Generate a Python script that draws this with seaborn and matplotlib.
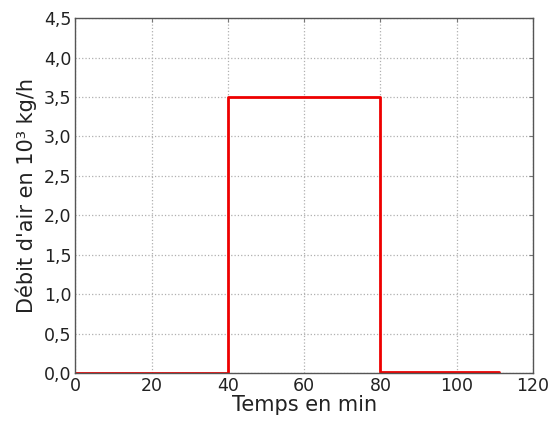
import matplotlib
matplotlib.use("Agg")
import matplotlib.pyplot as plt
import matplotlib.ticker as mticker
import seaborn as sns
import pandas as pd

temps = [0, 40, 40, 80, 80, 111]
debit = [0.0, 0.0, 3.5, 3.5, 0.015, 0.015]
xticks = [0, 20, 40, 60, 80, 100, 120]
yticks = [0.0, 0.5, 1.0, 1.5, 2.0, 2.5, 3.0, 3.5, 4.0, 4.5]

sns.set_theme(style="white")
plt.rcParams['font.family'] = ['DejaVu Sans']

df = pd.DataFrame({"t": temps, "d": debit})
fig = plt.figure(figsize=(5.5, 4.23), dpi=100)
ax = fig.add_axes([0.137, 0.118, 0.832, 0.839])
sns.lineplot(data=df, x="t", y="d", sort=False, color="#ee0000", lw=2, ax=ax, estimator=None)

ax.set_xlim(0, 120)
ax.set_ylim(0, 4.5)
ax.set_xticks(xticks)
ax.set_yticks(yticks)
ax.yaxis.set_major_formatter(mticker.FuncFormatter(lambda v, p: f"{v:.1f}".replace(".", ",")))
ax.grid(True, color="#b0b0b0", linestyle=":", linewidth=0.9)
ax.set_axisbelow(True)
ax.tick_params(direction="in", length=3, width=0.8, top=True, right=True,
               labelsize=12.5, colors="#777777", labelcolor="#222222", pad=3)
for s in ax.spines.values():
    s.set_color("#555555")
    s.set_linewidth(1.0)
ax.set_xlabel("Temps en min", fontsize=15, color="#222222", labelpad=0)
ax.set_ylabel("Débit d'air en 10³ kg/h", fontsize=15, color="#222222", labelpad=5)

fig.savefig("out.png", dpi=100, facecolor="white")
